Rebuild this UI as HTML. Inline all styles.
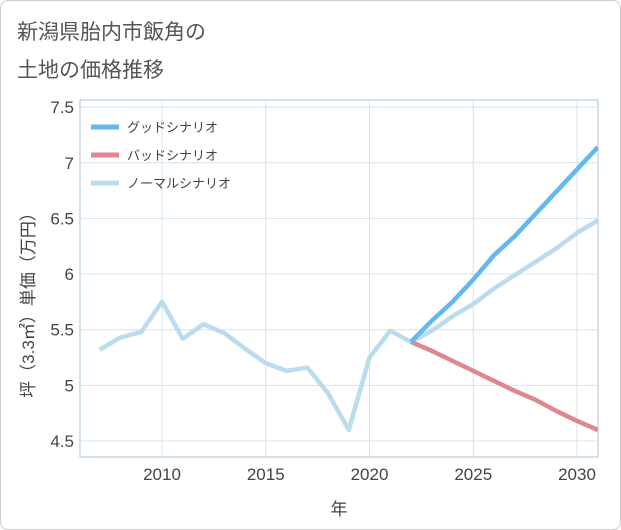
<!DOCTYPE html>
<html><head><meta charset="utf-8"><style>
body{margin:0;background:#fff;font-family:"Liberation Sans","Noto Sans CJK JP",sans-serif;}
#wrap{position:relative;width:619px;height:528px;border:1px solid #ccc;border-radius:8px;overflow:hidden;background:#fff}
</style></head><body>
<div id="wrap">
<svg id="chart" width="619" height="528"></svg>
</div>
<script>
const years=[2007,2008,2009,2010,2011,2012,2013,2014,2015,2016,2017,2018,2019,2020,2021,2022,2023,2024,2025,2026,2027,2028,2029,2030,2031];
const normal=[5.32,5.43,5.48,5.75,5.42,5.55,5.47,5.33,5.2,5.13,5.16,4.93,4.6,5.25,5.49,5.39,5.49,5.62,5.73,5.87,5.99,6.11,6.23,6.37,6.48];
const fYears=[2022,2023,2024,2025,2026,2027,2028,2029,2030,2031];
const good=[5.39,5.58,5.75,5.95,6.17,6.34,6.54,6.74,6.94,7.14];
const bad=[5.39,5.31,5.22,5.13,5.04,4.95,4.87,4.77,4.68,4.6];
const yTicks=[4.5,5,5.5,6,6.5,7,7.5];
const yLabels=["4.5","5","5.5","6","6.5","7","7.5"];
const xTicks=[2010,2015,2020,2025,2030];
const NS="http://www.w3.org/2000/svg";
const svg=document.getElementById('chart');
const L=79,R=597,T=99,B=456;
const x=v=>161+(v-2010)*20.75;
const y=v=>440-(v-4.5)*111.3;
function el(t,a,p){const e=document.createElementNS(NS,t);for(const k in a)e.setAttribute(k,a[k]);(p||svg).appendChild(e);return e;}
const t1=el('text',{x:16,y:38,'font-size':21,fill:'#555'});t1.textContent='新潟県胎内市飯角の';


const t2=el('text',{x:16,y:76,'font-size':21,fill:'#555'});t2.textContent='土地の価格推移';


const bg=el('rect',{x:L,y:T,width:R-L,height:B-T,fill:'#fff',stroke:'#aac4d8'});


yTicks.forEach((v,i)=>{
 const g=el('line',{x1:L,x2:R,y1:y(v),y2:y(v),stroke:'#d4e3ef'});
 
 
 const t=el('text',{x:L-6,y:y(v)+6,'font-size':17,fill:'#444','text-anchor':'end'});t.textContent=yLabels[i];
 
 
});
xTicks.forEach(v=>{
 const g=el('line',{x1:x(v),x2:x(v),y1:T,y2:B,stroke:'#d4e3ef'});
 
 
 const t=el('text',{x:x(v),y:479,'font-size':17,fill:'#444','text-anchor':'middle'});t.textContent=v;
 
 
});
const xt=el('text',{x:338,y:514,'font-size':17,fill:'#444','text-anchor':'middle'});xt.textContent='年';


const yt=el('text',{x:0,y:0,'font-size':17,fill:'#444','text-anchor':'middle',transform:'translate(33,300) rotate(-90)'});yt.textContent='坪（3.3㎡）単価（万円）';


function line(xs,vs,color,name){
 const p=el('polyline',{points:xs.map((a,i)=>x(a)+','+y(vs[i])).join(' '),fill:'none',stroke:color,'stroke-width':4.5,'stroke-linejoin':'round','clip-path':'url(#c)'});
 
 
}
const cp=el('clipPath',{id:'c'});el('rect',{x:L,y:T,width:R-L,height:B-T},cp);
line(years,normal,'#badcec','normal-scenario-line');
line(fYears,bad,'#e0868e','bad-scenario-line');
line(fYears,good,'#63b8f0','good-scenario-line');
[['グッドシナリオ','#63b8f0'],['バッドシナリオ','#e0868e'],['ノーマルシナリオ','#badcec']].forEach((d,i)=>{
 const yy=126+i*28;
 const s=el('line',{x1:90,x2:118,y1:yy,y2:yy,stroke:d[1],'stroke-width':5});
 
 
 const t=el('text',{x:126,y:yy+5,'font-size':13,fill:'#444'});t.textContent=d[0];
 
 
});
</script>
</body></html>
